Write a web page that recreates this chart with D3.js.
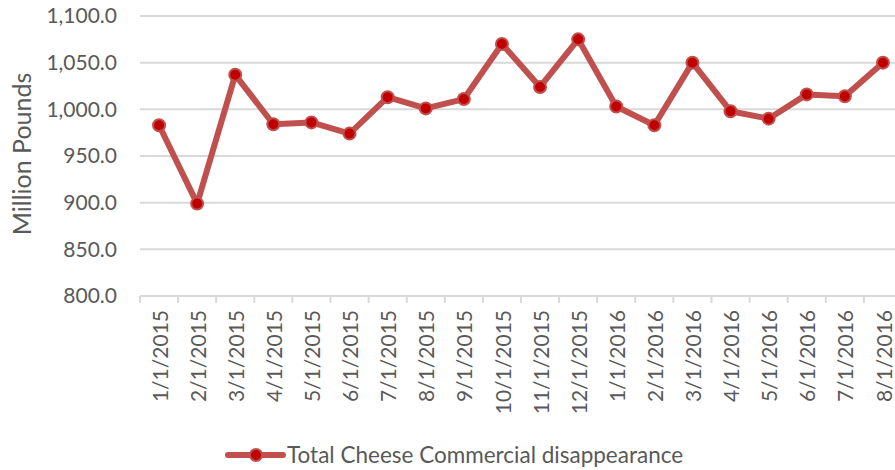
<!DOCTYPE html>
<html>
<head>
<meta charset="utf-8">
<script src="https://cdn.jsdelivr.net/npm/d3@7"></script>
<style>
  body { margin: 0; background: #fff; }
  text { font-family: Lato, "Open Sans", sans-serif; fill: #595959; }
</style>
</head>
<body>
<div id="chart"></div>
<script>
var months = ["1/1/2015","2/1/2015","3/1/2015","4/1/2015","5/1/2015","6/1/2015","7/1/2015","8/1/2015","9/1/2015","10/1/2015","11/1/2015","12/1/2015","1/1/2016","2/1/2016","3/1/2016","4/1/2016","5/1/2016","6/1/2016","7/1/2016","8/1/2016"]
var cheese = [983, 899, 1037, 984, 986, 974, 1013, 1001, 1011, 1070, 1024, 1075, 1003, 983, 1050, 998, 990, 1016, 1014, 1050]
var yTicks = [800, 850, 900, 950, 1000, 1050, 1100]
var seriesName = "Total Cheese Commercial disappearance"

var width = 895, height = 470
var svg = d3.select("#chart").append("svg")
    .attr("width", width)
    .attr("height", height)

var x = d3.scaleBand().domain(months).range([140, 902])
var y = d3.scaleLinear().domain([800, 1100]).range([296, 16])

// gridlines
svg.selectAll(".grid")
    .data(yTicks.slice(1))
    .enter().append("line")
    .attr("x1", 140).attr("x2", width)
    .attr("y1", function(d) { return y(d) })
    .attr("y2", function(d) { return y(d) })
    .attr("stroke", "#d9d9d9")
    .attr("stroke-width", 2)

// y axis labels
svg.selectAll(".ylab")
    .data(yTicks)
    .enter().append("text")
    .attr("x", 117)
    .attr("y", function(d) { return y(d) })
    .attr("dy", "0.35em")
    .attr("text-anchor", "end")
    .style("font-size", "21px")
    .text(function(d) { return d3.format(",.1f")(d) })

// x axis line and ticks between categories
svg.append("line")
    .attr("x1", 140).attr("x2", width)
    .attr("y1", y(800)).attr("y2", y(800))
    .attr("stroke", "#d9d9d9")
    .attr("stroke-width", 2)
svg.selectAll(".xtick")
    .data(months)
    .enter().append("line")
    .attr("x1", function(d) { return x(d) })
    .attr("x2", function(d) { return x(d) })
    .attr("y1", y(800)).attr("y2", y(800) + 7)
    .attr("stroke", "#d9d9d9")
    .attr("stroke-width", 2)

svg.selectAll(".xlab")
    .data(months)
    .enter().append("text")
    .attr("transform", function(d) {
        return "translate(" + (x(d) + x.bandwidth() / 2 + 1) + ",310) rotate(-90)"
    })
    .attr("dy", "0.36em")
    .attr("text-anchor", "end")
    .style("font-size", "21px")
    .text(function(d) { return d })

// y axis title
svg.append("text")
    .attr("transform", "translate(22,154) rotate(-90)")
    .attr("dy", "0.35em")
    .attr("text-anchor", "middle")
    .style("font-size", "25px")
    .text("Million Pounds")

// the line
var line = d3.line()
    .x(function(d, i) { return x(months[i]) + x.bandwidth() / 2 })
    .y(function(d) { return y(d) })

svg.append("path")
    .datum(cheese)
    .attr("d", line)
    .attr("fill", "none")
    .attr("stroke", "#c0504d")
    .attr("stroke-width", 6)
    .attr("stroke-linejoin", "round")

svg.selectAll(".dot")
    .data(cheese)
    .enter().append("circle")
    .attr("cx", function(d, i) { return x(months[i]) + x.bandwidth() / 2 })
    .attr("cy", function(d) { return y(d) })
    .attr("r", 6)
    .attr("fill", "#c00000")
    .attr("stroke", "#c0504d")
    .attr("stroke-width", 2)

// legend
var legend = svg.append("g")
legend.append("line")
    .attr("x1", 228).attr("x2", 283)
    .attr("y1", 455).attr("y2", 455)
    .attr("stroke", "#c0504d")
    .attr("stroke-width", 6)
    .attr("stroke-linecap", "round")
legend.append("circle")
    .attr("cx", 256).attr("cy", 455)
    .attr("r", 6)
    .attr("fill", "#c00000")
    .attr("stroke", "#c0504d")
    .attr("stroke-width", 2)
legend.append("text")
    .attr("x", 287).attr("y", 455)
    .attr("dy", "0.35em")
    .style("font-size", "22.5px")
    .text(seriesName)
</script>
</body>
</html>
